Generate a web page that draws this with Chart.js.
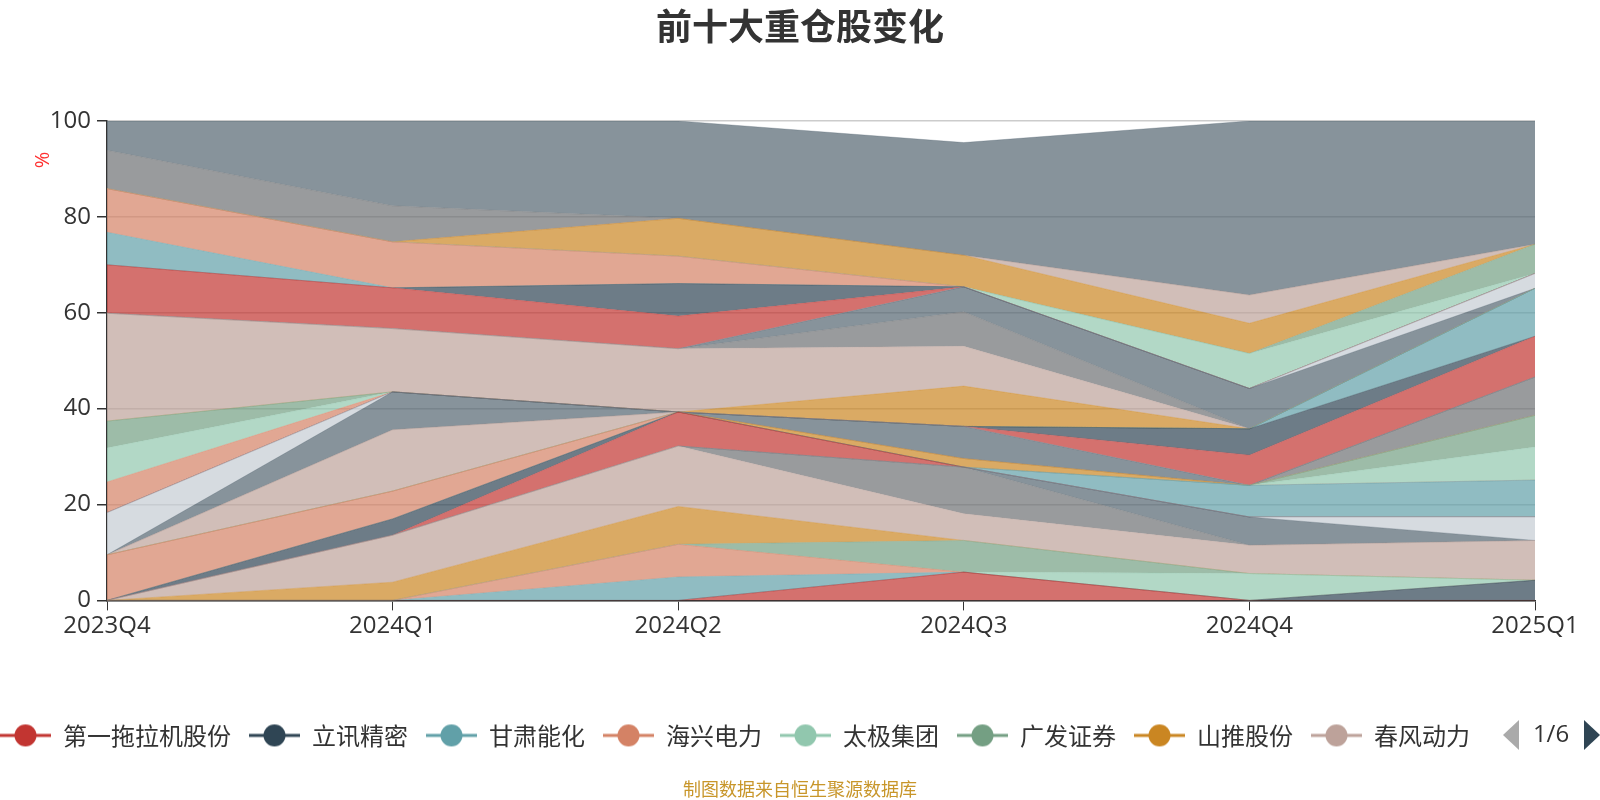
<!DOCTYPE html>
<html>
<head>
<meta charset="utf-8">
<script src="https://cdn.jsdelivr.net/npm/chart.js@4.4.0/dist/chart.umd.min.js"></script>
<style>
html,body{margin:0;padding:0;background:#fff;}
#wrap{width:1600px;height:800px;position:relative;}
</style>
</head>
<body>
<div id="wrap"><canvas id="c"></canvas></div>
<script>
// ---------- data ----------
const categories = ['2023Q4', '2024Q1', '2024Q2', '2024Q3', '2024Q4', '2025Q1'];
const yTickValues = [0, 20, 40, 60, 80, 100];
const titleText = '前十大重仓股变化';
const sourceText = '制图数据来自恒生聚源数据库';
const pagerText = '1/6';
const legendNames = ['第一拖拉机股份', '立讯精密', '甘肃能化', '海兴电力', '太极集团', '广发证券', '山推股份', '春风动力'];

// series values (%), in stacking order, one array per holding
const s00 = [0, 0, 0, 5.9, 0, 0];
const s01 = [0, 0, 0, 0, 0, 4.2];
const s02 = [0, 0, 4.9, 0, 0, 0];
const s03 = [0, 0, 6.8, 0, 0, 0];
const s04 = [0, 0, 0, 0, 5.6, 0];
const s05 = [0, 0, 0, 6.6, 0, 0];
const s06 = [0, 3.8, 7.9, 0, 0, 0];
const s07 = [0, 9.8, 12.6, 5.6, 5.9, 8.3];
const s08 = [0, 0, 0, 9.7, 0, 0];
const s09 = [0, 0, 0, 0, 5.9, 0];
const s10 = [0, 0, 0, 0, 0, 4.9];
const s11 = [0, 0, 7.1, 0, 0, 0];
const s12 = [0, 3.4, 0, 0, 0, 0];
const s13 = [0, 0, 0, 0, 6.6, 7.7];
const s14 = [9.5, 5.8, 0, 0, 0, 0];
const s15 = [0, 0, 0, 0, 0, 6.9];
const s16 = [0, 0, 0, 0, 0, 6.6];
const s17 = [0, 0, 0, 1.8, 0, 0];
const s18 = [0, 12.8, 0, 0, 0, 0];
const s19 = [0, 0, 0, 0, 0, 8.0];
const s20 = [0, 7.9, 0, 6.7, 0, 0];
const s21 = [8.8, 0, 0, 0, 0, 0];
const s22 = [0, 0, 0, 0, 6.3, 8.5];
const s23 = [0, 0, 0, 0, 5.5, 0];
const s24 = [0, 0, 0, 0, 0, 10.0];
const s25 = [6.4, 0, 0, 0, 0, 0];
const s26 = [7.1, 0, 0, 0, 0, 0];
const s27 = [5.6, 0, 0, 0, 0, 0];
const s28 = [0, 0, 0, 8.4, 0, 0];
const s29 = [22.5, 13.2, 13.2, 8.3, 0, 0];
const s30 = [0, 0, 0, 7.2, 0, 0];
const s31 = [0, 0, 0, 5.2, 8.4, 0];
const s32 = [0, 0, 0, 0, 0, 3.1];
const s33 = [10.1, 8.5, 6.8, 0, 0, 0];
const s34 = [0, 0, 6.8, 0, 0, 0];
const s35 = [6.8, 0, 0, 0, 0, 0];
const s36 = [9.1, 9.6, 5.7, 0, 0, 0];
const s37 = [0, 0, 0, 0, 7.3, 0];
const s38 = [0, 0, 0, 0, 0, 6.1];
const s39 = [0, 0, 7.9, 6.6, 6.3, 0];
const s40 = [0, 0, 0, 0, 5.9, 0];
const s41 = [8.0, 7.5, 0, 0, 0, 0];
const s42 = [6.1, 17.7, 20.3, 23.5, 36.3, 25.7];

const seriesValues = [s00, s01, s02, s03, s04, s05, s06, s07, s08, s09, s10, s11, s12, s13, s14, s15, s16, s17, s18, s19, s20,
  s21, s22, s23, s24, s25, s26, s27, s28, s29, s30, s31, s32, s33, s34, s35, s36, s37, s38, s39, s40, s41, s42];

// ---------- style ----------
const palette = ['#c23531', '#2f4554', '#61a0a8', '#d48265', '#91c7ae', '#749f83', '#ca8622', '#bda29a', '#6e7074', '#546570', '#c4ccd3'];
const CJK = '"Noto Sans CJK SC", "Open Sans", sans-serif';
const LAT = '"Open Sans", "Noto Sans CJK SC", sans-serif';

function rgba(hex, a) {
  const n = parseInt(hex.slice(1), 16);
  return 'rgba(' + ((n >> 16) & 255) + ',' + ((n >> 8) & 255) + ',' + (n & 255) + ',' + a + ')';
}
function makeIcon(color) {
  const c = document.createElement('canvas');
  c.width = 51; c.height = 24;
  const g = c.getContext('2d');
  g.strokeStyle = color; g.lineWidth = 3;
  g.beginPath(); g.moveTo(0, 12); g.lineTo(51, 12); g.stroke();
  g.fillStyle = color;
  g.beginPath(); g.arc(25.5, 12, 11, 0, Math.PI * 2); g.fill();
  return c;
}

const datasets = seriesValues.map((vals, i) => ({
  label: i < legendNames.length ? legendNames[i] : ('股票' + (i + 1)),
  data: vals,
  backgroundColor: rgba(palette[i % palette.length], 0.7),
  borderColor: rgba(palette[i % palette.length], 0.3),
  borderWidth: 1,
  pointRadius: 0,
  pointHoverRadius: 0,
  tension: 0,
  fill: i === 0 ? 'origin' : '-1'
}));

const extras = {
  id: 'extras',
  beforeDraw(chart) {
    const lg = chart.legend;
    if (lg) { lg.left = -18; lg.right = chart.width - 18; }
  },
  afterDraw(chart) {
    const ctx = chart.ctx;
    ctx.save();
    // y axis unit
    ctx.translate(43, 160);
    ctx.rotate(-Math.PI / 2);
    ctx.fillStyle = '#ff3030';
    ctx.font = '20px ' + LAT;
    ctx.textAlign = 'center';
    ctx.textBaseline = 'middle';
    ctx.fillText('%', 0, 0);
    ctx.restore();
    // legend pager
    ctx.save();
    ctx.fillStyle = '#aaaaaa';
    ctx.beginPath(); ctx.moveTo(1503, 735); ctx.lineTo(1519, 720); ctx.lineTo(1519, 750); ctx.closePath(); ctx.fill();
    ctx.fillStyle = '#2f4554';
    ctx.beginPath(); ctx.moveTo(1600, 735); ctx.lineTo(1584, 720); ctx.lineTo(1584, 750); ctx.closePath(); ctx.fill();
    ctx.fillStyle = '#333333';
    ctx.font = '24px ' + LAT;
    ctx.textAlign = 'center';
    ctx.textBaseline = 'middle';
    ctx.fillText(pagerText, 1551, 735);
    ctx.restore();
  }
};

new Chart(document.getElementById('c'), {
  type: 'line',
  data: { labels: categories, datasets },
  plugins: [extras],
  options: {
    responsive: true,
    maintainAspectRatio: false,
    animation: false,
    events: [],
    layout: { padding: { left: 0, right: 0, top: 0, bottom: 0 } },
    plugins: {
      title: {
        display: true, text: titleText, color: '#333333',
        font: { family: CJK, size: 36, weight: 'bold' },
        padding: { top: 5, bottom: 72.8 }
      },
      subtitle: {
        display: true, position: 'bottom', text: sourceText, color: '#c8962a',
        font: { family: CJK, size: 18 },
        padding: { top: 21, bottom: 0 }
      },
      legend: {
        display: true, position: 'bottom', align: 'start',
        labels: {
          font: { family: CJK, size: 24 }, color: '#333333',
          usePointStyle: true, pointStyleWidth: 51, padding: 18,
          generateLabels(chart) {
            return legendNames.map((name, i) => ({
              text: name,
              fillStyle: palette[i % palette.length],
              strokeStyle: palette[i % palette.length],
              lineWidth: 0,
              fontColor: '#333333',
              hidden: false,
              pointStyle: makeIcon(palette[i % palette.length]),
              datasetIndex: i
            }));
          }
        }
      },
      tooltip: { enabled: false }
    },
    scales: {
      x: {
        type: 'category', offset: false,
        grid: { display: true, drawOnChartArea: false, drawTicks: true, tickLength: 10, tickColor: '#333333' },
        border: { display: true, color: '#333333', width: 1.5 },
        ticks: { color: '#333333', font: { family: LAT, size: 24 }, maxRotation: 0, autoSkip: false, padding: 1 },
        afterFit(s) { s.height = 105; }
      },
      y: {
        type: 'linear', stacked: true, min: 0, max: 100, position: 'left',
        grid: { color: '#cccccc', lineWidth: 1.5, drawTicks: true, tickLength: 10, tickColor: '#333333' },
        border: { display: true, color: '#333333', width: 1.5 },
        ticks: { color: '#333333', font: { family: LAT, size: 24 }, padding: 6 },
        afterBuildTicks(s) { s.ticks = yTickValues.map(v => ({ value: v })); },
        afterFit(s) { s.width = 107; }
      },
      yR: {
        type: 'linear', position: 'right', display: true,
        grid: { display: false, drawTicks: false }, border: { display: false },
        ticks: { display: false },
        afterFit(s) { s.width = 65; }
      }
    }
  }
});
</script>
</body>
</html>
